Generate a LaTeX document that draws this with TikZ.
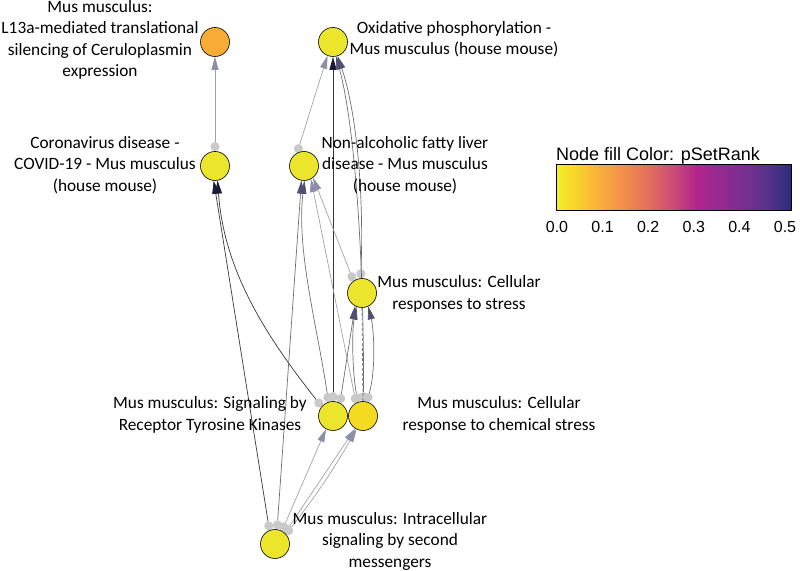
\documentclass[tikz,border=0pt]{standalone}
\usepackage{fontspec}
\setmainfont{Carlito}
\newfontfamily\legfont{Liberation Sans}
\usetikzlibrary{arrows.meta,backgrounds}

\definecolor{ylw}{HTML}{EBE52C}
\definecolor{ylwb}{HTML}{F5DA22}
\definecolor{org}{HTML}{F8AC35}
\definecolor{linedk}{HTML}{363636}
\definecolor{linemd}{HTML}{6E6E6E}
\definecolor{linelt}{HTML}{A3A3A3}
\definecolor{tipdk}{HTML}{1A1A3C}
\definecolor{tipmd}{HTML}{4F4F72}
\definecolor{tiplt}{HTML}{8E8EAA}
\definecolor{dotgr}{HTML}{C9C9C9}
% colour bar stops, 0.0 to 0.5
\definecolor{c0}{HTML}{F3EF2A}
\definecolor{c1}{HTML}{F7CF2C}
\definecolor{c2}{HTML}{F7A93F}
\definecolor{c3}{HTML}{F28A4C}
\definecolor{c4}{HTML}{E06C5F}
\definecolor{c5}{HTML}{CB4B77}
\definecolor{c6}{HTML}{B0248C}
\definecolor{c7}{HTML}{942A8F}
\definecolor{c8}{HTML}{763090}
\definecolor{c9}{HTML}{57328A}
\definecolor{c10}{HTML}{2C2C7C}

\begin{document}
\begin{tikzpicture}[x=1pt, y=1pt]
        \tikzstyle{pw} = [circle, draw=black, line width=0.6pt, minimum size=29pt, inner sep=0pt, fill=ylw]
        \tikzstyle{lbl} = [align=center, inner sep=0pt, font=\fontsize{17.3}{21.5}\selectfont]
        \tikzstyle{edk} = [draw=linedk, line width=0.7pt, arrows={Circle[length=9pt,color=dotgr]-Triangle[length=13pt,width=7pt,color=tipdk]}]
        \tikzstyle{emd} = [draw=linemd, line width=0.7pt, arrows={Circle[length=9pt,color=dotgr]-Triangle[length=13pt,width=7pt,color=tipmd]}]
        \tikzstyle{elt} = [draw=linelt, line width=0.7pt, arrows={Circle[length=9pt,color=dotgr]-Triangle[length=13pt,width=7pt,color=tiplt]}]

        \useasboundingbox (0,0) rectangle (800,570);

        % pathways
        \node (l13a) [pw, fill=org] at (215,528) {};
        \node (oxphos) [pw] at (333,528) {};
        \node (covid) [pw] at (215,404) {};
        \node (nafld) [pw] at (304,404) {};
        \node (stress) [pw] at (362,277) {};
        \node (rtk) [pw] at (333,154) {};
        \node (chem) [pw, fill=ylwb] at (363,154) {};
        \node (second) [pw] at (275,26) {};

        \node (l13a-t) [lbl] at (100,530) {Mus musculus:\\ L13a-mediated translational\\ silencing of Ceruloplasmin\\ expression};
        \node (oxphos-t) [lbl] at (454,531) {Oxidative phosphorylation -\\ Mus musculus (house mouse)};
        \node (covid-t) [lbl] at (105,405) {Coronavirus disease -\\ COVID-19 - Mus musculus\\ (house mouse)};
        \node (nafld-t) [lbl] at (405,405) {Non-alcoholic fatty liver\\ disease - Mus musculus\\ (house mouse)};
        \node (stress-t) [lbl] at (459,276) {Mus musculus: Cellular\\ responses to stress};
        \node (rtk-t) [lbl] at (210,155) {Mus musculus: Signaling by\\ Receptor Tyrosine Kinases};
        \node (chem-t) [lbl] at (499,155) {Mus musculus: Cellular\\ response to chemical stress};
        \node (second-t) [lbl] at (390,29) {Mus musculus: Intracellular\\ signaling by second\\ messengers};

        % edges
        \begin{scope}[on background layer]
            \draw [elt] (covid) -- (l13a);
            \draw [elt] (nafld.118) -- (oxphos.-112);
            \draw [edk] (rtk.north) -- (oxphos.south);
            \draw [emd] (stress.95) .. controls (364,380) and (356,460) .. (oxphos.-72);
            \draw [emd] (chem.88) .. controls (364,300) and (356,440) .. (oxphos.-78);

            \draw [edk] (second.112) -- (covid.-95);
            \draw [edk] (rtk.140) .. controls (265,235) and (224,300) .. (covid.-80);

            \draw [emd] (second.82) -- (nafld.-100);
            \draw [emd] (rtk.108) .. controls (318,240) and (296,320) .. (nafld.-88);
            \draw [elt] (chem.118) -- (nafld.-62);
            \draw [elt] (stress.125) -- (nafld.-52);

            \draw [emd] (rtk.62) -- (stress.-118);
            \draw [linemd, line width=0.7pt, densely dashed] (chem.north) -- (stress.south);
            \draw [emd] (chem.75) .. controls (376,200) and (374,240) .. (stress.-65);
            \draw [emd] (chem.110) .. controls (352,200) and (352,240) .. (stress.-112);

            \draw [elt] (second.62) -- (rtk.-118);
            \draw [elt] (second.48) -- (chem.-122);
            \draw [elt] (second.42) to[bend right=4] (chem.-116);
        \end{scope}

        % legend
        \node (leg-t) [anchor=base west, inner sep=0pt, font=\legfont\fontsize{18}{20}\selectfont] at (556,409) {Node fill Color: pSetRank};
        \foreach \a/\b [count=\i from 0] in {c0/c1, c1/c2, c2/c3, c3/c4, c4/c5, c5/c6, c6/c7, c7/c8, c8/c9, c9/c10}
            \shade [left color=\a, right color=\b] (556+\i*23.5,359) rectangle ++(23.6,46);
        \node (bar) [draw=black, line width=0.5pt, minimum width=235pt, minimum height=46pt, inner sep=0pt, anchor=south west] at (556,359) {};
        \foreach \v [count=\i from 0] in {0.0,0.1,0.2,0.3,0.4,0.5}
            \node (tick\i) [inner sep=0pt, font=\legfont\fontsize{16}{18}\selectfont] at (557+\i*45.6,343) {\v};

    \end{tikzpicture}
\end{document}
